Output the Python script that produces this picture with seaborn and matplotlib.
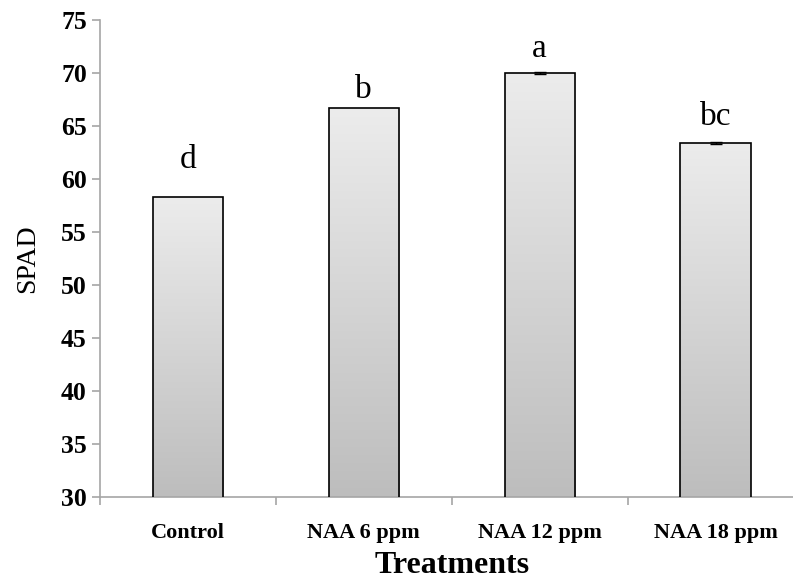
"""SPAD by NAA treatment - bar chart with gradient fill"""
import numpy as np
import matplotlib
matplotlib.use("Agg")
import matplotlib.pyplot as plt
from matplotlib.colors import LinearSegmentedColormap
import seaborn as sns

# data
treatments = ["Control", "NAA 6 ppm", "NAA 12 ppm", "NAA 18 ppm"]
spad = [58.3, 66.7, 70.0, 63.4]
spad_err = [0.0, 0.0, 0.1, 0.1]
letters = ["d", "b", "a", "bc"]
y_ticks = [30, 35, 40, 45, 50, 55, 60, 65, 70, 75]

sns.set_style("white")
plt.rcParams["font.family"] = ["Liberation Serif", "DejaVu Serif"]
plt.rcParams["text.color"] = "black"
plt.rcParams["axes.labelcolor"] = "black"

fig = plt.figure(figsize=(7.93, 5.82), dpi=100)
# axes runs a little past the right edge, as in the cropped original
ax = fig.add_axes([100 / 793, 85.3 / 582, 703.5 / 793, 476.7 / 582])

sns.barplot(x=treatments, y=spad, ax=ax, width=0.4, color="#d6d6d6",
            edgecolor="black", linewidth=1.2, zorder=3)

ymin, ymax = y_ticks[0], y_ticks[-1]
grad_cmap = LinearSegmentedColormap.from_list("bar", ["#bdbdbd", "#ececec"])
grad = np.linspace(0, 1, 256).reshape(-1, 1)
for p in ax.patches:
    x0, w = p.get_x(), p.get_width()
    top = p.get_y() + p.get_height()
    im = ax.imshow(grad, cmap=grad_cmap, origin="lower", aspect="auto",
                   extent=[x0, x0 + w, ymin, top], zorder=2)
    im.set_clip_path(p)
    p.set_facecolor("none")

# tiny error bars only where the reference shows them
err_idx = [i for i, e in enumerate(spad_err) if e > 0]
ax.errorbar(err_idx, [spad[i] for i in err_idx],
            yerr=[spad_err[i] for i in err_idx], fmt="none",
            ecolor="black", elinewidth=1, capsize=4, zorder=4)

# significance letters (gap above bar, in points)
letter_gap = [21, 7, 11.5, 13]
for i, (v, lab) in enumerate(zip(spad, letters)):
    ax.annotate(lab, xy=(i, v), xytext=(0, letter_gap[i]),
                textcoords="offset points", ha="center", va="baseline",
                fontsize=24, color="black")

ax.set_xlim(-0.5, len(treatments) - 0.5)
ax.set_ylim(ymin, ymax)
ax.set_yticks(y_ticks)
ax.set_yticklabels([str(t) for t in y_ticks], fontsize=18.5, fontweight="bold")
ax.set_xticks(range(len(treatments)))
ax.set_xticklabels(treatments, fontsize=16, fontweight="bold")
ax.set_xticks(np.arange(-0.5, len(treatments)), minor=True)

spine_col = "#a6a6a6"
for s in ["top", "right"]:
    ax.spines[s].set_visible(False)
for s in ["left", "bottom"]:
    ax.spines[s].set_color(spine_col)
    ax.spines[s].set_linewidth(1.2)

ax.tick_params(axis="y", which="major", direction="out", length=6,
               color=spine_col, labelcolor="black", width=1.2, pad=3.5,
               left=True)
ax.tick_params(axis="x", which="major", length=0, pad=19, labelcolor="black")
ax.tick_params(axis="x", which="minor", direction="out", length=6,
               color=spine_col, width=1.2, bottom=True)

ax.set_ylabel("SPAD", fontsize=20, labelpad=15)
ax.set_xlabel("Treatments", fontsize=23, fontweight="bold", labelpad=6)

plt.savefig("out.png", dpi=100)
plt.close()
